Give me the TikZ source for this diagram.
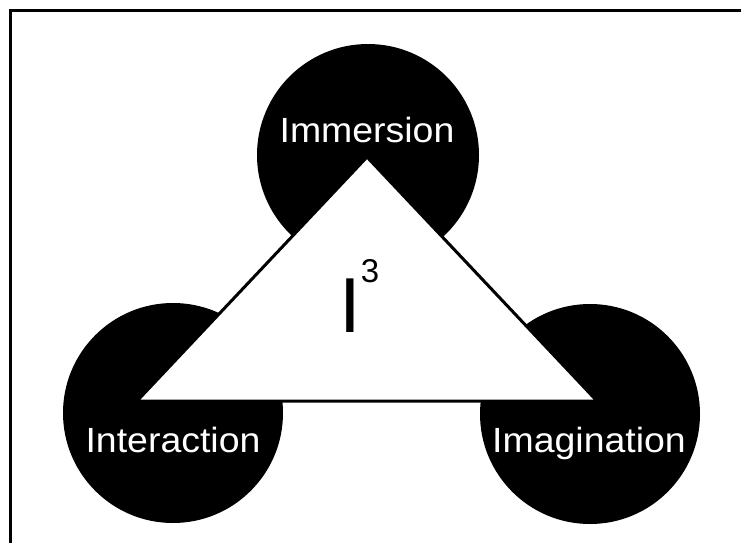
\documentclass[tikz,border=0pt]{standalone}
\usepackage{fontspec}
\setmainfont{Liberation Sans}
\newfontfamily\labelfont[FakeStretch=1.07]{Liberation Sans}
\begin{document}
\begin{tikzpicture}[x=1pt,y=-1pt,
  blob/.style={circle,fill=black,draw=none,minimum size=220pt,inner sep=0pt},
  lbl/.style={anchor=base,text=white,inner sep=0pt,font=\labelfont\fontsize{35}{35}\selectfont},
  frameline/.style={line width=3pt,black}]
\useasboundingbox (0,0) rectangle (741,543);
\fill[white] (0,0) rectangle (741,543);
% frame (top and left edges only)
\coordinate (fTL) at (10,10.5);
\coordinate (fTR) at (741,10.5);
\coordinate (fBL) at (10,543);
\draw[frameline] (fTR) -- (fTL) -- (fBL);
% circles
\node[blob,minimum size=222pt] (cTop) at (368,155) {};
\node[blob] (cLeft) at (173,413) {};
\node[blob] (cRight) at (590,414) {};
% triangle
\coordinate (tA) at (367,157);
\coordinate (tB) at (137,401);
\coordinate (tC) at (597,401);
\draw[line width=3pt,fill=white,line join=miter] (tA) -- (tB) -- (tC) -- cycle;
% labels
\node[lbl] (lTop) at (367,142) {Immersion};
\node[lbl] (lLeft) at (173,452) {Interaction};
\node[lbl] (lRight) at (589,452) {Imagination};
\node[anchor=base west,inner sep=0pt] (iCube) at (339,332)
  {{\fontsize{78}{78}\selectfont I}\raisebox{50pt}{\fontsize{33}{33}\selectfont 3}};
\end{tikzpicture}
\end{document}
